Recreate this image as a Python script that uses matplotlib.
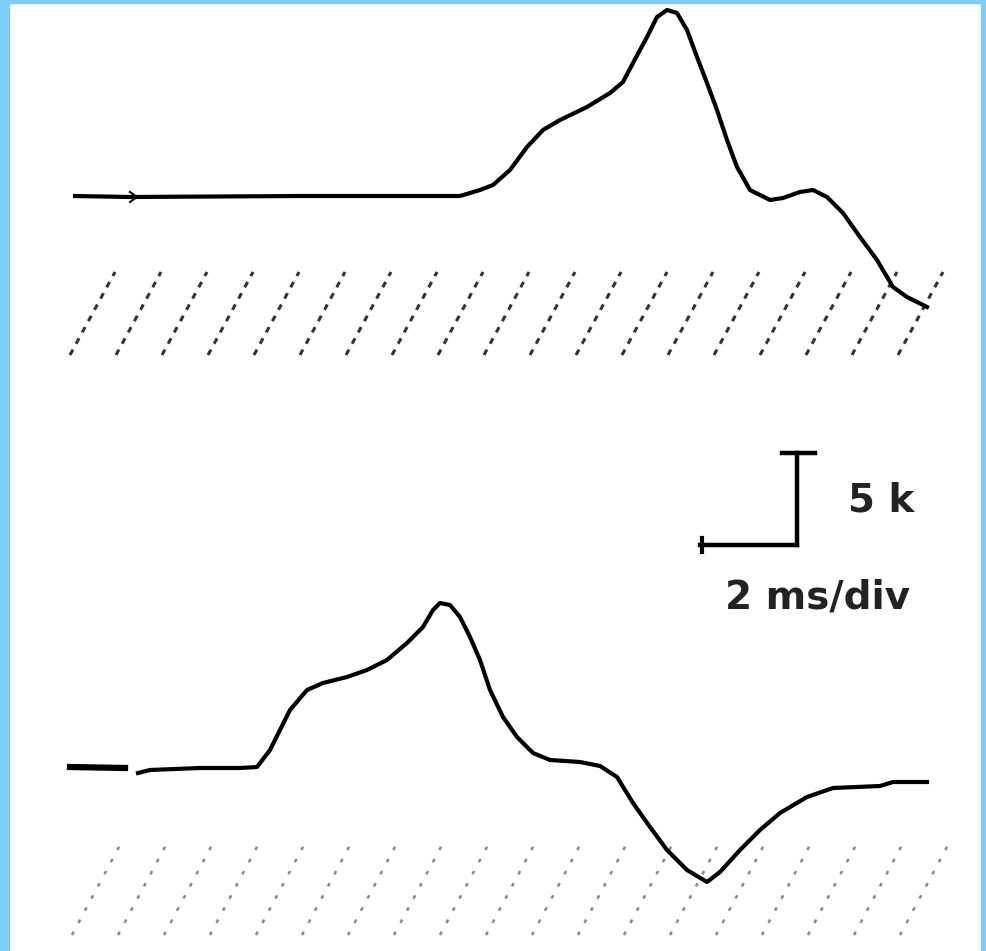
import matplotlib
matplotlib.use("Agg")
from matplotlib import pyplot as plt
from matplotlib.patches import Rectangle

# Trace coordinates (pixel-like units, y grows downward)
top_x = [75, 130, 300, 460, 480, 493, 510, 527, 543, 560, 587, 610, 623, 633,
         647, 657, 667, 677, 687, 697, 707, 717, 727, 737, 750, 770, 783, 800,
         813, 827, 843, 860, 877, 893, 907, 927]
top_y = [196, 197, 196, 196, 190, 185, 170, 147, 130, 120, 107, 93, 82, 63,
         37, 17, 10, 13, 30, 57, 83, 110, 140, 167, 190, 200, 198, 192,
         190, 197, 213, 237, 260, 287, 297, 307]

bot_lead_x = [70, 125]
bot_lead_y = [767, 768]
bot_x = [138, 150, 200, 240, 257, 270, 280, 290, 307, 323, 347, 367, 387, 407,
         423, 433, 440, 450, 460, 470, 480, 490, 503, 517, 533, 550, 580, 600,
         617, 633, 650, 667, 687, 707, 720, 740, 760, 780, 807, 833, 880, 893,
         927]
bot_y = [773, 770, 768, 768, 767, 750, 730, 710, 690, 683, 677, 670, 660, 643,
         627, 610, 603, 605, 617, 637, 660, 690, 717, 737, 753, 760, 762, 766,
         777, 803, 827, 850, 870, 882, 872, 850, 830, 813, 797, 788, 786, 782,
         782]

# Hatched bands: bottom-edge start of each stroke
top_hatch_x = [70, 116, 162, 208, 254, 300, 346, 392, 438, 484, 530, 576,
               622, 668, 714, 760, 806, 852, 898]
bot_hatch_x = [72, 118, 164, 210, 256, 302, 348, 394, 440, 486, 532, 578,
               624, 670, 716, 762, 808, 854, 900]

scale_labels = ["5 k", "2 ms/div"]

fig = plt.figure(figsize=(9.86, 9.51), dpi=100)
ax = fig.add_axes([0, 0, 1, 1])
ax.set_xlim(0, 986)
ax.set_ylim(951, 0)
ax.axis("off")

# light blue frame
blue = "#7ccdf8"
ax.add_patch(Rectangle((0, 0), 9, 951, color=blue, zorder=5))
ax.add_patch(Rectangle((0, 0), 986, 3, color=blue, zorder=5))
ax.add_patch(Rectangle((981, 0), 5, 951, color=blue, zorder=5))

# hatching
for x0 in top_hatch_x:
    ax.plot([x0, x0 + 45], [355, 272], color="#333333", lw=2.2,
            ls=(0, (2, 2.2)), solid_capstyle="round")
for x0 in bot_hatch_x:
    ax.plot([x0, x0 + 48], [935, 845], color="#888888", lw=1.8,
            ls=(0, (1.5, 4)), solid_capstyle="round")

# traces
ax.plot(top_x, top_y, color="black", lw=3, solid_joinstyle="round")
ax.plot([130, 137, 130], [192, 197, 202], color="black", lw=1.5)
ax.plot(bot_lead_x, bot_lead_y, color="black", lw=4.5)
ax.plot(bot_x, bot_y, color="black", lw=3, solid_joinstyle="round")

# scale bar
ax.plot([797, 797], [453, 545], color="black", lw=3.2)
ax.plot([782, 815], [453, 453], color="black", lw=3.2)
ax.plot([700, 797], [545, 545], color="black", lw=3.2)
ax.plot([702, 702], [538, 552], color="black", lw=3)
ax.text(848, 500, scale_labels[0], fontsize=28, fontweight="bold",
        color="#222222", ha="left", va="center")
ax.text(818, 598, scale_labels[1], fontsize=28, fontweight="bold",
        color="#222222", ha="center", va="center")

fig.savefig("out.png", dpi=100)
